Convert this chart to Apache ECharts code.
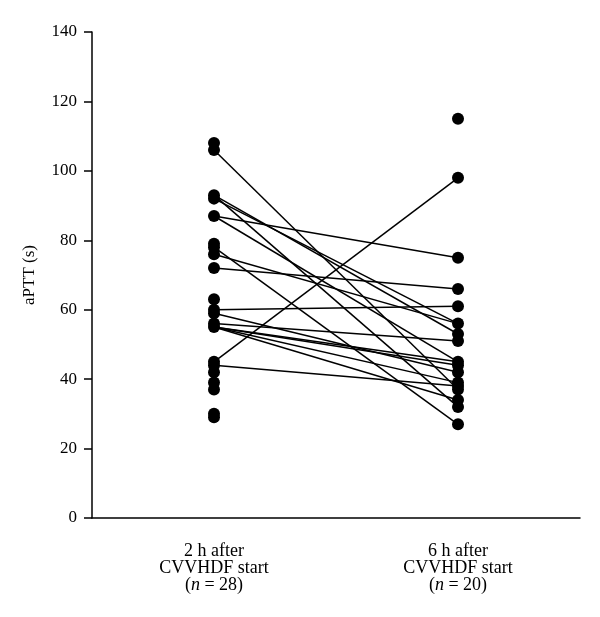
<!DOCTYPE html>
<html>
<head>
<meta charset="utf-8">
<script src="https://cdn.jsdelivr.net/npm/echarts@6/dist/echarts.min.js"></script>
<style>html,body{margin:0;padding:0;background:#fff;}#c{width:600px;height:617px;}</style>
</head>
<body>
<div id="c"></div>
<script>
var categories = ['2 h after\nCVVHDF start\n({i|n} = 28)', '6 h after\nCVVHDF start\n({i|n} = 20)'];
var yTicks = [0, 20, 40, 60, 80, 100, 120, 140];
var leftValues = [108, 106, 93, 92, 87, 79, 78, 76, 72, 63, 60, 59, 56, 55, 45, 44, 42, 39, 37, 30, 29];
var rightValues = [115, 98, 75, 66, 61, 56, 53, 51, 45, 44, 42, 39, 38, 37, 34, 32, 27];
var pairFrom = [106, 93, 92, 87, 87, 78, 76, 72, 60, 59, 56, 55, 55, 55, 55, 45, 44, 93];
var pairTo   = [37,  32, 56, 75, 45, 27, 56, 66, 61, 42, 51, 45, 44, 39, 34, 98, 38, 53];

var FONT = '"Liberation Serif", "DejaVu Serif", serif';
var series = [];
for (var i = 0; i < pairFrom.length; i++) {
  series.push({
    type: 'line', data: [[0, pairFrom[i]], [1, pairTo[i]]],
    symbol: 'none', silent: true, z: 1,
    lineStyle: {color: '#000', width: 1.5}
  });
}
series.push({
  type: 'scatter', z: 3, symbolSize: 12, itemStyle: {color: '#000', opacity: 1},
  data: leftValues.map(function (v) { return [0, v]; })
});
series.push({
  type: 'scatter', z: 3, symbolSize: 12, itemStyle: {color: '#000', opacity: 1},
  data: rightValues.map(function (v) { return [1, v]; })
});

var chart = echarts.init(document.getElementById('c'));
chart.setOption({
  animation: false,
  grid: {left: 92, right: 20, top: 32, bottom: 99},
  xAxis: {
    type: 'category', data: categories, boundaryGap: true,
    axisLine: {lineStyle: {color: '#000', width: 1.5}},
    axisTick: {alignWithLabel: true, length: 9, lineStyle: {color: '#000', width: 1.5}},
    axisLabel: {
      color: '#000', fontFamily: FONT, fontSize: 18, lineHeight: 17, margin: 25,
      rich: {i: {fontStyle: 'italic', fontFamily: FONT, fontSize: 18, color: '#000', lineHeight: 17}}
    }
  },
  yAxis: {
    type: 'value', min: yTicks[0], max: yTicks[yTicks.length - 1], interval: 20,
    name: 'aPTT (s)', nameLocation: 'middle', nameGap: 54,
    nameTextStyle: {color: '#000', fontFamily: FONT, fontSize: 17},
    axisLine: {show: true, lineStyle: {color: '#000', width: 1.5}},
    axisTick: {show: true, length: 8, lineStyle: {color: '#000', width: 1.5}},
    axisLabel: {color: '#000', fontFamily: FONT, fontSize: 17, margin: 15},
    splitLine: {show: false}
  },
  series: series
});
</script>
</body>
</html>
